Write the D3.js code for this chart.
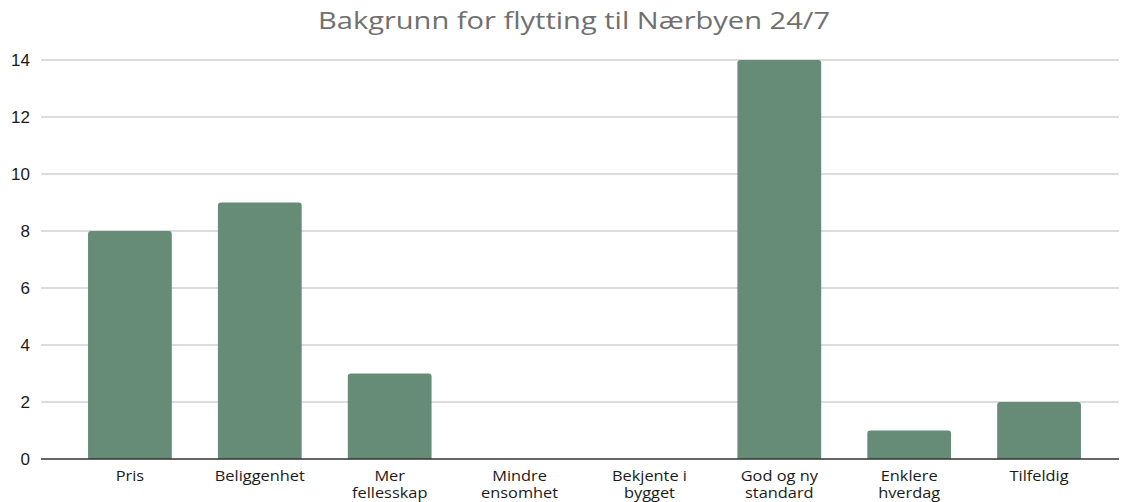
<!DOCTYPE html>
<html>
<head>
<meta charset="utf-8">
<script src="https://cdn.jsdelivr.net/npm/d3@7"></script>
<style>
  body { margin: 0; background: #fff; }
  svg { display: block; }
</style>
</head>
<body>
<div id="chart"></div>
<script>
// data
let categories = [
    ["Pris"],
    ["Beliggenhet"],
    ["Mer", "fellesskap"],
    ["Mindre", "ensomhet"],
    ["Bekjente i", "bygget"],
    ["God og ny", "standard"],
    ["Enklere", "hverdag"],
    ["Tilfeldig"]
];
let values = [8, 9, 3, 0, 0, 14, 1, 2];
let yTicks = [0, 2, 4, 6, 8, 10, 12, 14];
let title = "Bakgrunn for flytting til Nærbyen 24/7";

let width = 1121, height = 502;
let gridLeft = 41, gridRight = 1119;
let barColor = "#668c78";
let stretch = 1.17; // the reference text looks horizontally stretched

let svg = d3.select("#chart").append("svg")
    .attr("width", width)
    .attr("height", height);

let x = d3.scaleBand()
    .domain(d3.range(categories.length))
    .range([65, 1104])
    .paddingInner(0.355)
    .paddingOuter(0.1775);

let y = d3.scaleLinear()
    .domain([0, 14])
    .range([459, 60]);

// title
svg.append("text")
    .attr("x", 574)
    .attr("y", 29)
    .attr("text-anchor", "middle")
    .attr("font-family", "'Open Sans', sans-serif")
    .attr("font-size", 23)
    .attr("fill", "#707070")
    .attr("textLength", 512)
    .attr("lengthAdjust", "spacingAndGlyphs")
    .text(title);

// gridlines
svg.append("g")
    .selectAll("line")
    .data(yTicks.filter(d => d > 0))
    .join("line")
    .attr("x1", gridLeft)
    .attr("x2", gridRight)
    .attr("y1", d => y(d))
    .attr("y2", d => y(d))
    .attr("stroke", "#d0d0d0")
    .attr("stroke-width", 1.5);

// y tick labels
svg.append("g")
    .selectAll("text")
    .data(yTicks)
    .join("text")
    .attr("x", 30)
    .attr("y", d => y(d))
    .attr("dy", "0.36em")
    .attr("text-anchor", "end")
    .attr("font-family", "'Liberation Sans', Arial, sans-serif")
    .attr("font-size", 17)
    .attr("fill", "#1a1a1a")
    .text(d => d);

// bars with rounded top corners
let r = 3;
function barPath(d, i) {
    let x0 = x(i), w = x.bandwidth();
    let y0 = y(0), y1 = y(d);
    if (d <= 0) return "";
    return `M${x0},${y0} L${x0},${y1 + r} Q${x0},${y1} ${x0 + r},${y1}` +
        ` L${x0 + w - r},${y1} Q${x0 + w},${y1} ${x0 + w},${y1 + r} L${x0 + w},${y0} Z`;
}

svg.append("g")
    .selectAll("path")
    .data(values)
    .join("path")
    .attr("d", barPath)
    .attr("fill", barColor);

// baseline
svg.append("line")
    .attr("x1", gridLeft)
    .attr("x2", gridRight)
    .attr("y1", y(0))
    .attr("y2", y(0))
    .attr("stroke", "#333")
    .attr("stroke-width", 1.5);

// category labels
let labels = svg.append("g")
    .selectAll("text")
    .data(categories)
    .join("text")
    .attr("transform", (d, i) => `translate(${x(i) + x.bandwidth() / 2},481) scale(${stretch},1)`)
    .attr("text-anchor", "middle")
    .attr("font-family", "'Open Sans', sans-serif")
    .attr("font-size", 14)
    .attr("fill", "#1a1a1a");

labels.selectAll("tspan")
    .data(d => d)
    .join("tspan")
    .attr("x", 0)
    .attr("dy", (d, i) => i === 0 ? 0 : 17)
    .text(d => d);
</script>
</body>
</html>
